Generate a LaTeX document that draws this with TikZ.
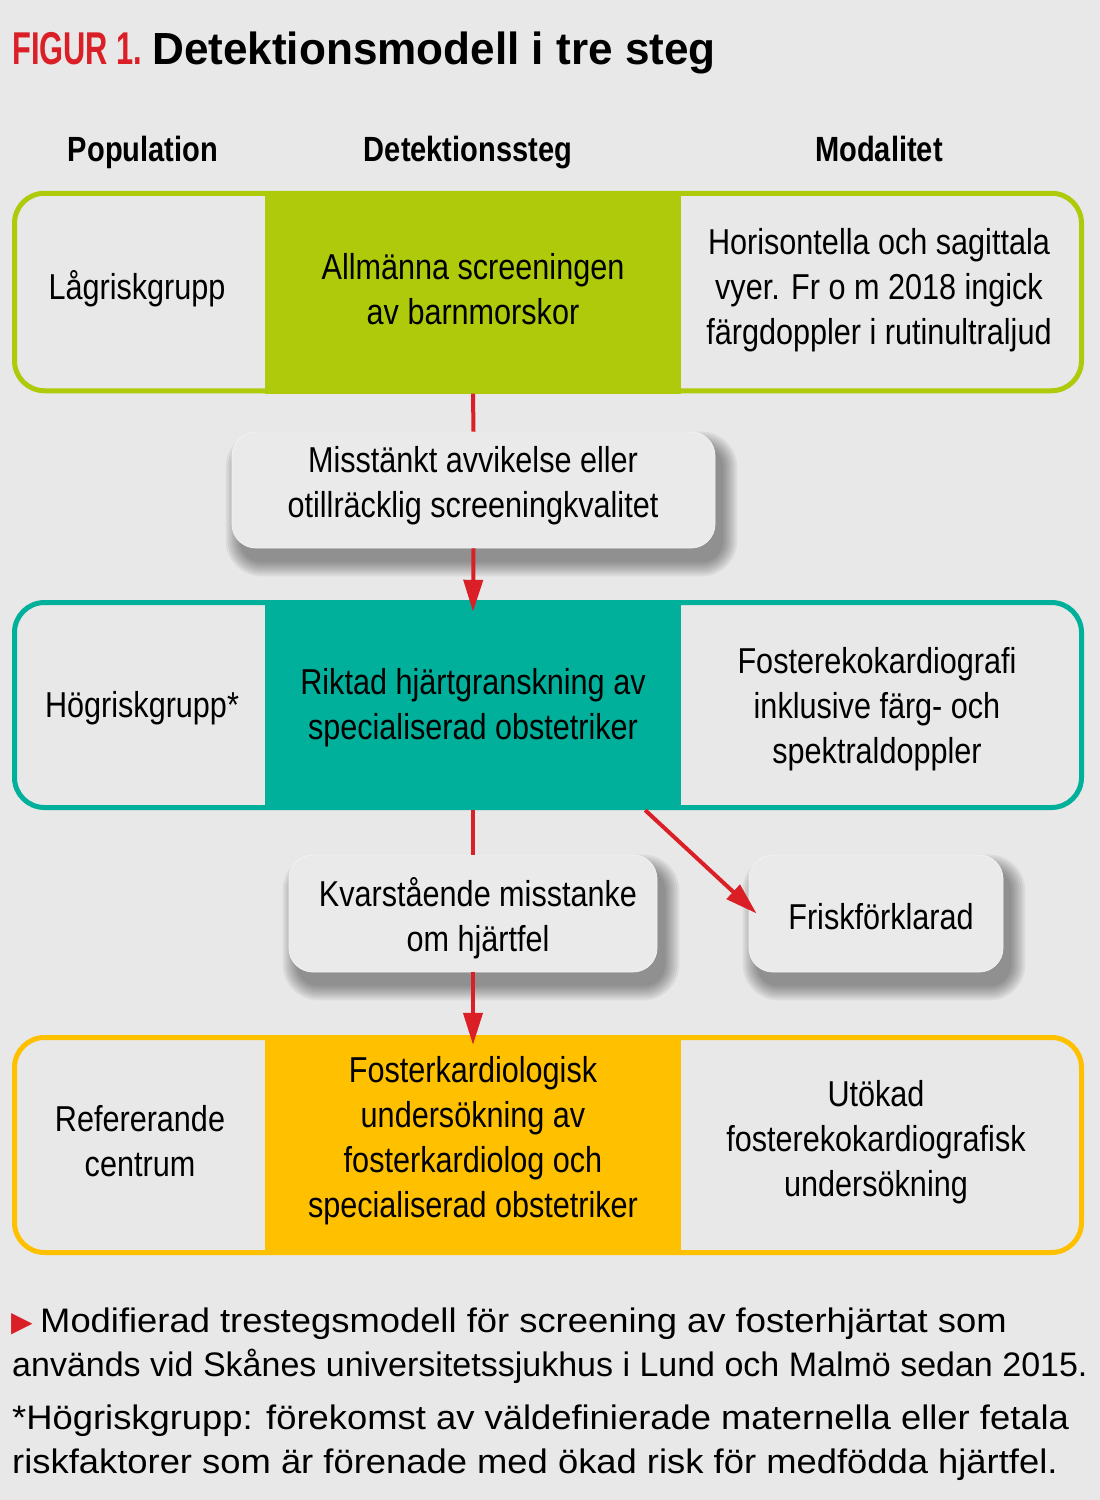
\documentclass[tikz,border=0pt]{standalone}
\usepackage{fontspec}
\setmainfont{Liberation Sans}
\newfontfamily\condfont{Liberation Sans}[FakeStretch=0.85]
\newfontfamily\hdrfont{Liberation Sans}[FakeStretch=0.83]
\newfontfamily\titlefont{Liberation Sans}[FakeStretch=0.98]
\newfontfamily\figfont{Liberation Sans}[FakeStretch=0.67]
\newfontfamily\notefont{Liberation Sans}[FakeStretch=1.07]
\newfontfamily\noteBfont{Liberation Sans}[FakeStretch=1.0]
\newfontfamily\symfont{DejaVu Sans}
\usetikzlibrary{arrows.meta}
\definecolor{bg}{HTML}{E8E8E8}
\definecolor{cgreen}{HTML}{AFCA0B}
\definecolor{cteal}{HTML}{00B09B}
\definecolor{cyellow}{HTML}{FFC000}
\definecolor{cred}{HTML}{DA1F26}
\definecolor{boxgrey}{HTML}{EAEAEA}
\pgfdeclarelayer{bgl}
\pgfdeclarelayer{shadowl}
\pgfsetlayers{bgl,shadowl,main}
\newcommand\mysoftshadow[1]{%
  \begin{pgfonlayer}{shadowl}
  \foreach \r in {0,2,...,14}{%
    \pgfmathsetmacro\rc{22+\r}%
    \fill[black, opacity=0.055, rounded corners=\rc pt]
      ([shift={(8-\r,14+\r)}]#1.south west) rectangle ([shift={(8+\r,14-\r)}]#1.north east);
  }
  \end{pgfonlayer}}
\begin{document}
\begin{tikzpicture}[x=1pt,y=-1pt,
  frame/.style={draw=#1, line width=5pt, rounded corners=30pt,
    minimum width=1067pt, inner sep=0pt},
  midfill/.style={fill=#1, minimum width=416pt, inner sep=0pt},
  sidetext/.style={inner sep=0pt, align=center,
    font=\condfont\fontsize{36pt}{45pt}\selectfont},
  hdr/.style={inner sep=0pt, anchor=base,
    font=\hdrfont\bfseries\fontsize{35pt}{42pt}\selectfont},
  qbox/.style={fill=boxgrey, draw=white!40!boxgrey, line width=0.8pt,
    rounded corners=24pt, inner sep=0pt},
  redline/.style={draw=cred, line width=4pt},
  redarrow/.style={draw=cred, line width=4pt,
    -{Triangle[length=32pt,width=19pt]}, fill=cred},
  noteline/.style={inner sep=0pt, anchor=base west,
    font=\notefont\fontsize{34pt}{45pt}\selectfont},
]
\begin{pgfonlayer}{bgl}
\fill[bg] (0,0) rectangle (1100,1500);
\end{pgfonlayer}
\useasboundingbox (0,0) rectangle (1100,1500);

% title
\node[inner sep=0pt, anchor=base west, text=cred,
  font=\figfont\bfseries\fontsize{46pt}{50pt}\selectfont] (fig) at (12,64) {FIGUR 1.};
\node[inner sep=0pt, anchor=base west,
  font=\titlefont\bfseries\fontsize{45pt}{50pt}\selectfont] (title) at (152,64) {Detektionsmodell i tre steg};

% headers
\node[hdr] (h1) at (143,161) {Population};
\node[hdr] (h2) at (468,161) {Detektionssteg};
\node[hdr] (h3) at (879,161) {Modalitet};

% row 1
\node[frame=cgreen, minimum height=197.5pt] (row1) at (548,292) {};
\node[midfill=cgreen, minimum height=203pt] (mid1) at (473,292) {};
\node[sidetext] (mtx1) at (473,289) {Allmänna screeningen\\av barnmorskor};
\node[sidetext] (pop1) at (137,289) {Lågriskgrupp};
\node[sidetext] (mod1) at (879,290) {Horisontella och sagittala\\vyer. Fr o m 2018 ingick\\färgdoppler i rutinultraljud};

% row 2
\node[frame=cteal, minimum height=205pt] (row2) at (548,705) {};
\node[midfill=cteal, minimum height=210pt] (mid2) at (473,705) {};
\node[sidetext] (mtx2) at (473,708) {Riktad hjärtgranskning av\\specialiserad obstetriker};
\node[sidetext] (pop2) at (142,708) {Högriskgrupp*};
\node[sidetext] (mod2) at (877,709) {Fosterekokardiografi\\inklusive färg- och\\spektraldoppler};

% row 3
\node[frame=cyellow, minimum height=215pt] (row3) at (548,1145) {};
\node[midfill=cyellow, minimum height=220pt] (mid3) at (473,1145) {};
\node[sidetext] (mtx3) at (473,1141) {Fosterkardiologisk\\undersökning av\\fosterkardiolog och\\specialiserad obstetriker};
\node[sidetext] (pop3) at (140,1141) {Refererande\\centrum};
\node[sidetext] (mod3) at (876,1142) {Utökad\\fosterekokardiografisk\\undersökning};

% intermediate boxes
\node[qbox, minimum width=483pt, minimum height=116pt] (q1) at (473.5,490) {};
\node[sidetext] (qt1) at (473,486) {Misstänkt avvikelse eller\\otillräcklig screeningkvalitet};
\node[qbox, minimum width=368pt, minimum height=117pt] (q2) at (473,913.5) {};
\node[sidetext] (qt2) at (478,918) {Kvarstående misstanke\\om hjärtfel};
\node[qbox, minimum width=254pt, minimum height=117pt] (fr) at (876,913.5) {};
\node[sidetext] (frt) at (881,917) {Friskförklarad};
\mysoftshadow{q1}
\mysoftshadow{q2}
\mysoftshadow{fr}

% connectors
\draw[redline] (mid1.south) -- (q1.north);
\draw[redarrow] (q1.south) -- ([yshift=-12pt]mid2.north);
\draw[redline] (mid2.south) -- (q2.north);
\draw[redarrow] (q2.south) -- ([yshift=-10pt]mid3.north);
\draw[redarrow] ([xshift=-36pt]mid2.south east) -- ([xshift=8pt]fr.west);

% footnotes
\node[noteline] (fn1) at (40,1332) {Modifierad trestegsmodell för screening av fosterhjärtat som};
\node[inner sep=0pt, anchor=base west, text=cred,
  font=\symfont\fontsize{28pt}{32pt}\selectfont] (tri) at (11,1331) {▶};
\node[noteline, font=\noteBfont\fontsize{34pt}{45pt}\selectfont] (fn2) at (12,1376) {används vid Skånes universitetssjukhus i Lund och Malmö sedan 2015.};
\node[noteline] (fn3) at (12,1429) {*Högriskgrupp: förekomst av väldefinierade maternella eller fetala};
\node[noteline] (fn4) at (12,1473) {riskfaktorer som är förenade med ökad risk för medfödda hjärtfel.};
\end{tikzpicture}
\end{document}
